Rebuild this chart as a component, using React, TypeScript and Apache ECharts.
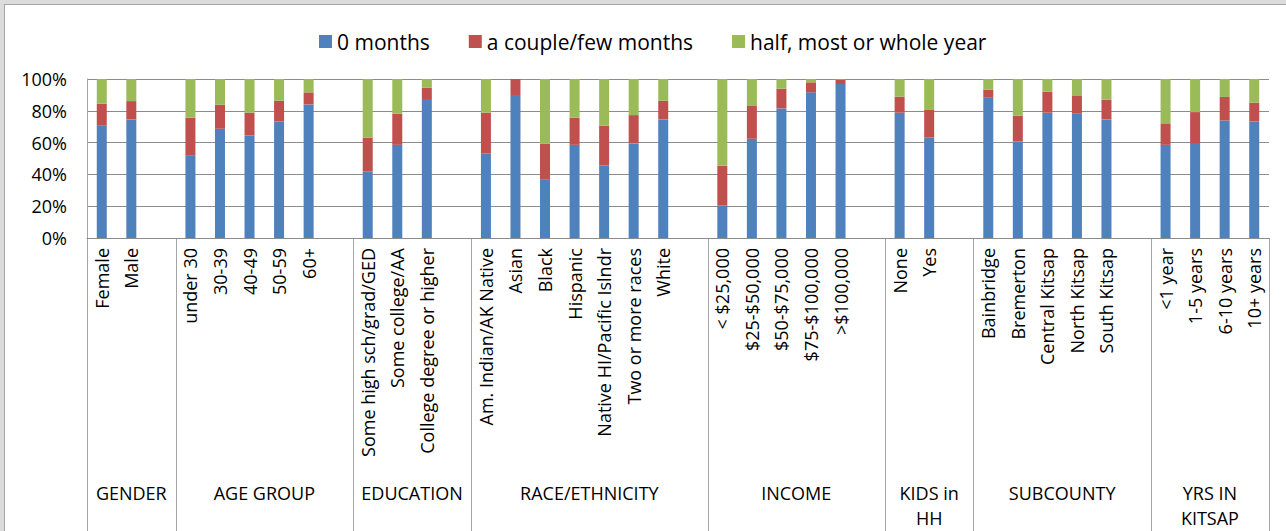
import React, { useEffect, useRef } from 'react';
import * as echarts from 'echarts';

const seriesNames = ['0 months', 'a couple/few months', 'half, most or whole year'];
const seriesColors = ['#4f81bd', '#c0504d', '#9bbb59'];

const groupNames = ['GENDER', 'AGE GROUP', 'EDUCATION', 'RACE/ETHNICITY', 'INCOME', 'KIDS in\nHH', 'SUBCOUNTY', 'YRS IN\nKITSAP'];
const groupCategories = [
  ['Female', 'Male'],
  ['under 30', '30-39', '40-49', '50-59', '60+'],
  ['Some high sch/grad/GED', 'Some college/AA', 'College degree or higher'],
  ['Am. Indian/AK Native', 'Asian', 'Black', 'Hispanic', 'Native HI/Pacific Islndr', 'Two or more races', 'White'],
  ['< $25,000', '$25-$50,000', '$50-$75,000', '$75-$100,000', '>$100,000'],
  ['None', 'Yes'],
  ['Bainbridge', 'Bremerton', 'Central Kitsap', 'North Kitsap', 'South Kitsap'],
  ['<1 year', '1-5 years', '6-10 years', '10+ years'],
];
const groupHasGap = [true, true, true, true, true, true, true, false];

const zeroMonths = [
  [70.6, 74.6],
  [52.1, 68.7, 64.5, 73.3, 84.0],
  [41.8, 58.6, 87.4],
  [53.2, 89.9, 37.0, 58.6, 45.6, 59.5, 74.6],
  [20.4, 62.4, 81.5, 91.6, 96.8],
  [78.8, 63.2],
  [88.2, 60.7, 78.8, 78.4, 74.6],
  [58.6, 59.7, 73.9, 73.3],
];
const coupleFewMonths = [
  [13.9, 11.5],
  [23.5, 15.1, 14.3, 13.0, 7.6],
  [21.2, 19.6, 7.1],
  [25.6, 10.1, 22.2, 17.0, 25.0, 17.8, 11.7],
  [25.0, 21.0, 12.4, 6.3, 2.8],
  [10.1, 17.3],
  [5.1, 16.2, 13.2, 11.3, 12.4],
  [13.5, 19.5, 14.8, 11.8],
];
const halfOrMoreYear = [
  [15.5, 13.9],
  [24.4, 16.2, 21.2, 13.7, 8.4],
  [37.0, 21.8, 5.5],
  [21.2, 0.0, 40.8, 24.4, 29.4, 22.7, 13.7],
  [54.6, 16.6, 6.1, 2.1, 0.4],
  [11.1, 19.5],
  [6.7, 23.1, 8.0, 10.3, 13.0],
  [27.9, 20.8, 11.3, 14.9],
];

const yTicks = [0, 20, 40, 60, 80, 100];

const FONT = "'Open Sans', sans-serif";

function flatten(values: number[][]): (number | null)[] {
  const out: (number | null)[] = [];
  values.forEach((g, gi) => {
    g.forEach((v) => out.push(v));
    if (groupHasGap[gi]) out.push(null);
  });
  return out;
}

function buildCategories(): string[] {
  const out: string[] = [];
  groupCategories.forEach((g, gi) => {
    g.forEach((c) => out.push(c));
    if (groupHasGap[gi]) out.push('');
  });
  return out;
}

export default function App() {
  const ref = useRef<HTMLDivElement>(null);
  useEffect(() => {
    document.body.style.margin = '0';
    const chart = echarts.init(ref.current!, undefined, { renderer: 'svg' });
    const categories = buildCategories();
    const allSeries = [zeroMonths, coupleFewMonths, halfOrMoreYear];
    chart.setOption({
      animation: false,
      backgroundColor: '#ffffff',
      textStyle: { fontFamily: FONT },
      legend: {
        left: 314,
        top: 26,
        icon: 'rect',
        itemWidth: 13,
        itemHeight: 13,
        itemGap: 39,
        textStyle: { fontSize: 21, color: '#000', fontFamily: FONT },
        data: seriesNames,
      },
      grid: { left: 87, right: 17, top: 79, bottom: 293, containLabel: false },
      xAxis: {
        type: 'category',
        data: categories,
        axisLine: { show: true, lineStyle: { color: '#8c8c8c', width: 1 } },
        axisTick: { show: false },
        axisLabel: {
          rotate: 90,
          interval: 0,
          margin: 10,
          fontSize: 18,
          color: '#000',
          fontFamily: FONT,
        },
      },
      yAxis: {
        type: 'value',
        min: 0,
        max: 100,
        interval: 20,
        axisLine: { show: true, lineStyle: { color: '#a6a6a6', width: 1 } },
        axisTick: { show: false },
        splitLine: { show: true, lineStyle: { color: '#8c8c8c', width: 1 } },
        axisLabel: {
          formatter: (v: number) => (yTicks.includes(v) ? v + '%' : ''),
          fontSize: 18,
          color: '#000',
          margin: 20,
          fontFamily: FONT,
        },
      },
      series: allSeries.map((vals, i) => ({
        name: seriesNames[i],
        type: 'bar',
        stack: 'total',
        barWidth: 10,
        data: flatten(vals),
        itemStyle: { color: seriesColors[i] },
      })),
    });

    const c0 = chart.convertToPixel({ xAxisIndex: 0 }, 0) as number;
    const c1 = chart.convertToPixel({ xAxisIndex: 0 }, 1) as number;
    const slot = c1 - c0;
    const yBase = chart.convertToPixel({ yAxisIndex: 0 }, 0) as number;
    const graphics: any[] = [
      { type: 'rect', shape: { x: 0, y: 0, width: 1286, height: 4 }, style: { fill: '#dcdcdc' }, silent: true },
      { type: 'rect', shape: { x: 0, y: 0, width: 4, height: 531 }, style: { fill: '#dcdcdc' }, silent: true },
      { type: 'line', shape: { x1: 4, y1: 4.5, x2: 1286, y2: 4.5 }, style: { stroke: '#a6a6a6', lineWidth: 1 }, silent: true },
      { type: 'line', shape: { x1: 4.5, y1: 4, x2: 4.5, y2: 531 }, style: { stroke: '#a6a6a6', lineWidth: 1 }, silent: true },
    ];
    let idx = 0;
    const boundaries: number[] = [c0 - slot / 2];
    groupCategories.forEach((g, gi) => {
      const n = g.length + (groupHasGap[gi] ? 1 : 0);
      const start = c0 - slot / 2 + idx * slot;
      const end = start + n * slot;
      boundaries.push(end);
      const center = (start + end) / 2;
      graphics.push({
        type: 'text',
        x: center,
        y: 480,
        silent: true,
        style: {
          text: groupNames[gi],
          fontSize: 18,
          fontFamily: FONT,
          fill: '#000',
          align: 'center',
          verticalAlign: 'top',
          lineHeight: 25,
        },
      });
      idx += n;
    });
    boundaries.forEach((b) => {
      const x = Math.round(b) + 0.5;
      graphics.push({
        type: 'line',
        shape: { x1: x, y1: yBase, x2: x, y2: 531 },
        style: { stroke: '#a6a6a6', lineWidth: 1 },
        silent: true,
      });
    });
    chart.setOption({ graphic: graphics });

    return () => chart.dispose();
  }, []);
  return <div ref={ref} style={{ position: 'absolute', left: 0, top: 0, width: 1286, height: 531 }} />;
}
